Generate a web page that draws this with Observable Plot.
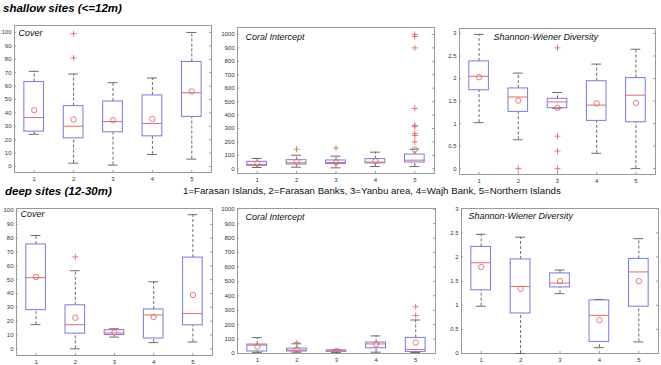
<!DOCTYPE html>
<html>
<head>
<meta charset="utf-8">
<script src="https://cdn.jsdelivr.net/npm/d3@7"></script>
<script src="https://cdn.jsdelivr.net/npm/@observablehq/plot@0.6"></script>
<style>
  body { margin: 0; background: #fff; }
  #chart { position: relative; width: 661px; height: 365px; overflow: hidden; background: #fff; font-family: "Liberation Sans", Arial, sans-serif; }
  .hdr { position: absolute; font-size: 11.5px; font-weight: bold; font-style: italic; color: #000; line-height: 13px; white-space: nowrap; }
  .leg { position: absolute; font-size: 9.7px; color: #111; line-height: 11px; white-space: nowrap; }
  #chart svg { position: absolute; overflow: visible; }
</style>
</head>
<body>
<div id="chart"></div>
<script>
// ---- data ----
const sites = [1, 2, 3, 4, 5];
const legendText = "1=Farasan Islands, 2=Farasan Banks, 3=Yanbu area, 4=Wajh Bank, 5=Northern Islands";
const shallowTitle = "shallow sites (<=12m)";
const deepTitle = "deep sites (12-30m)";

const coverTicks = [0, 10, 20, 30, 40, 50, 60, 70, 80, 90, 100];
const coralTicks = [0, 100, 200, 300, 400, 500, 600, 700, 800, 900, 1000];
const diversityTicks = [0, 0.5, 1, 1.5, 2, 2.5, 3];

// each row: [whisker low, q1, median, q3, whisker high, mean] for sites 1..5
const shallowCoverStats = [
  [24, 26, 36.5, 63, 71, 42],
  [2.5, 21, 30, 45, 69, 35],
  [1, 25.5, 33.5, 48.5, 62.5, 34.5],
  [9, 22.5, 32, 53, 66, 35.5],
  [5.5, 37, 55, 78, 100, 56]
];
const shallowCoverOutliers = [[2, 99], [2, 81]];

const shallowCoralStats = [
  [10, 22, 33, 52, 77, 38],
  [12, 32, 45, 64, 101, 52],
  [7, 35, 47, 62, 94, 48],
  [17, 40, 50, 72, 124, 57],
  [17, 47, 64, 106, 146, 142]
];
const shallowCoralOutliers = [[2, 146], [3, 156], [5, 1000], [5, 985], [5, 900], [5, 450], [5, 324], [5, 314], [5, 262], [5, 248], [5, 200]];

const shallowDiversityStats = [
  [1.02, 1.74, 2.05, 2.38, 2.98, 2.03],
  [0.64, 1.26, 1.59, 1.78, 2.12, 1.51],
  [1.34, 1.34, 1.48, 1.55, 1.69, 1.35],
  [0.34, 1.06, 1.41, 1.94, 2.32, 1.45],
  [0, 1.03, 1.63, 2.01, 2.65, 1.46]
];
const shallowDiversityOutliers = [[2, 0], [3, 2.68], [3, 0.72], [3, 0.39], [3, 0]];

const deepCoverStats = [
  [17.5, 28, 51.5, 75.5, 82, 52],
  [0, 11, 17.5, 31.5, 56.5, 22.5],
  [8.5, 10, 11.5, 13.5, 14.5, 12],
  [4.5, 7.5, 24.5, 28.5, 48.5, 23],
  [5, 17, 25.5, 66, 97, 39]
];
const deepCoverOutliers = [[2, 66.5]];

const deepCoralStats = [
  [8, 14, 58, 62, 110, 48],
  [9, 14, 23, 34, 67, 28],
  [7, 12, 18, 22, 25, 17],
  [9, 36, 66, 76, 122, 64],
  [7, 11, 28, 108, 232, 76]
];
const deepCoralOutliers = [[2, 76], [5, 324], [5, 263]];

const deepDiversityStats = [
  [0.98, 1.31, 1.88, 2.21, 2.47, 1.79],
  [0, 0.83, 1.39, 1.95, 2.41, 1.34],
  [1.24, 1.37, 1.46, 1.66, 1.73, 1.5],
  [0.12, 0.24, 0.79, 1.1, 1.12, 0.69],
  [0.24, 0.97, 1.69, 1.96, 2.38, 1.5]
];

// ---- drawing ----
const chart = document.getElementById("chart");
const FONT = "'Liberation Sans', Arial, sans-serif";
const BOX = "#7878e2", RED = "#e26a6a", WHISK = "#6a6a6a", FRAME = "#9a9a9a";

function addDiv(cls, text, left, top) {
  const d = document.createElement("div");
  d.className = cls; d.textContent = text;
  d.style.left = left + "px"; d.style.top = top + "px";
  chart.appendChild(d);
}

function panel({stats, outliers, yDomain, yTicks, frame, title, tdx, tdy}) {
  const [L, T, R, B] = frame;
  const mL = 24, mR = 3, mT = 3, mB = 12;
  const rows = stats.map((s, k) => ({i: sites[k], lo: s[0], q1: s[1], med: s[2], q3: s[3], hi: s[4], mean: s[5]}));
  const tk = (yDomain[1] - yDomain[0]) * 0.014;
  const svg = Plot.plot({
    width: R - L + mL + mR,
    height: B - T + mT + mB,
    marginLeft: mL, marginRight: mR, marginTop: mT, marginBottom: mB,
    style: {fontSize: "6px", fontFamily: FONT, background: "transparent", color: "#333", overflow: "visible"},
    x: {domain: [0.5, 5.5], ticks: sites, tickSize: 0, tickPadding: 4, label: null, tickFormat: d => String(d)},
    y: {domain: yDomain, ticks: yTicks, tickSize: 0, tickPadding: 3, label: null, tickFormat: d => String(d)},
    marks: [
      Plot.frame({stroke: FRAME}),
      Plot.ruleY(yTicks, {y: d => d, x1: 0.5, x2: 0.55, stroke: FRAME}),
      Plot.ruleY(yTicks, {y: d => d, x1: 5.45, x2: 5.5, stroke: FRAME}),
      Plot.ruleX(sites, {x: d => d, y1: yDomain[0], y2: yDomain[0] + tk, stroke: FRAME}),
      Plot.ruleX(rows, {x: "i", y1: "q3", y2: "hi", stroke: WHISK, strokeDasharray: "3,2"}),
      Plot.ruleX(rows, {x: "i", y1: "lo", y2: "q1", stroke: WHISK, strokeDasharray: "3,2"}),
      Plot.ruleY(rows, {y: "hi", x1: d => d.i - 0.125, x2: d => d.i + 0.125, stroke: WHISK}),
      Plot.ruleY(rows, {y: "lo", x1: d => d.i - 0.125, x2: d => d.i + 0.125, stroke: WHISK}),
      Plot.rect(rows, {x1: d => d.i - 0.25, x2: d => d.i + 0.25, y1: "q1", y2: "q3", fill: "none", stroke: BOX}),
      Plot.ruleY(rows, {y: "med", x1: d => d.i - 0.25, x2: d => d.i + 0.25, stroke: RED}),
      Plot.dot(rows, {x: "i", y: "mean", r: 2.7, stroke: RED, fill: "none", strokeWidth: 0.9}),
      Plot.dot(outliers, {x: d => d[0], y: d => d[1], symbol: "plus", r: 2.1, stroke: RED, strokeWidth: 0.9}),
      Plot.text([title], {frameAnchor: "top-left", dx: tdx, dy: tdy, text: d => d, textAnchor: "start", lineAnchor: "middle", fontSize: 9, fontStyle: "italic", fill: "#111"})
    ]
  });
  svg.style.left = (L - mL) + "px";
  svg.style.top = (T - mT) + "px";
  svg.style.background = "transparent";
  chart.appendChild(svg);
}

addDiv("hdr", shallowTitle, 3, 2);
addDiv("hdr", deepTitle, 5, 185);
addDiv("leg", legendText, 183, 185);

panel({stats: shallowCoverStats, outliers: shallowCoverOutliers, yDomain: [-4.5, 105.2], yTicks: coverTicks, frame: [14, 25, 211, 172], title: "Cover", tdx: 4, tdy: 8});
panel({stats: shallowCoralStats, outliers: shallowCoralOutliers, yDomain: [-35, 1052], yTicks: coralTicks, frame: [237, 27, 434, 173], title: "Coral Intercept", tdx: 8, tdy: 10});
panel({stats: shallowDiversityStats, outliers: shallowDiversityOutliers, yDomain: [-0.13, 3.11], yTicks: diversityTicks, frame: [459, 28, 655, 174], title: "Shannon-Wiener Diversity", tdx: 34, tdy: 9});
panel({stats: deepCoverStats, outliers: deepCoverOutliers, yDomain: [-4.8, 101.5], yTicks: coverTicks, frame: [16, 208, 212, 355], title: "Cover", tdx: 4, tdy: 6});
panel({stats: deepCoralStats, outliers: deepCoralOutliers, yDomain: [0, 1005], yTicks: coralTicks, frame: [237, 208, 435, 353], title: "Coral Intercept", tdx: 8, tdy: 9});
panel({stats: deepDiversityStats, outliers: [], yDomain: [0, 3.005], yTicks: diversityTicks, frame: [461, 208, 658, 353], title: "Shannon-Wiener Diversity", tdx: 7, tdy: 8});
</script>
</body>
</html>
